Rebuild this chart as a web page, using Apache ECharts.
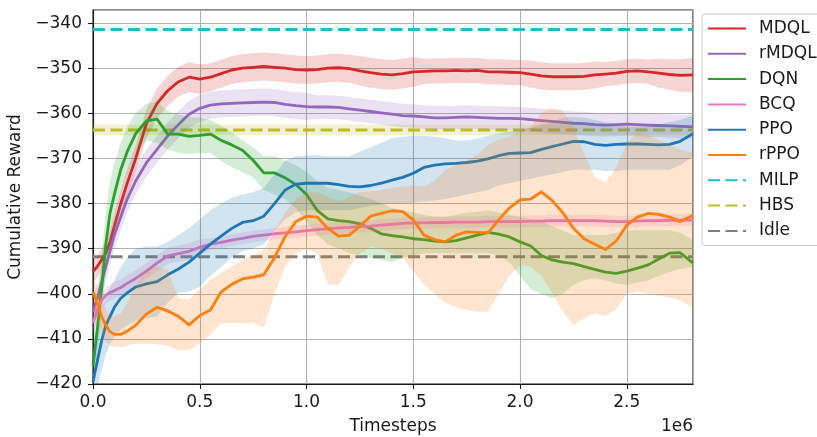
<!DOCTYPE html>
<html><head><meta charset="utf-8">
<script src="https://cdn.jsdelivr.net/npm/echarts@6/dist/echarts.min.js"></script>
<style>html,body{margin:0;padding:0;background:#fff}#c{width:817px;height:437px}</style>
</head><body><div id="c"></div>
<script>
// x values in units of 1e6 timesteps
const timesteps = [0,0.02,0.04,0.06,0.08,0.1,0.13,0.16,0.2,0.25,0.3,0.35,0.4,0.45,0.5,0.55,0.6,0.65,0.7,0.75,0.8,0.85,0.9,0.95,1.0,1.05,1.1,1.15,1.2,1.25,1.3,1.35,1.4,1.45,1.5,1.55,1.6,1.65,1.7,1.75,1.8,1.85,1.9,1.95,2.0,2.05,2.1,2.15,2.2,2.25,2.3,2.35,2.4,2.45,2.5,2.55,2.6,2.65,2.7,2.75,2.81];

const mdqlMean = [-395,-394,-392.5,-391,-388.5,-385,-380,-375.5,-370,-362.3,-357.8,-355,-353,-352,-352.4,-352,-351.2,-350.4,-350,-349.8,-349.6,-349.8,-350,-350.3,-350.4,-350.3,-350,-349.9,-350.1,-350.6,-351,-351.3,-351.5,-351.2,-350.8,-350.7,-350.6,-350.6,-350.5,-350.6,-350.5,-350.8,-350.8,-350.9,-351,-351.3,-351.7,-351.9,-351.9,-351.9,-351.8,-351.5,-351.3,-351.1,-350.7,-350.6,-350.8,-351.1,-351.4,-351.6,-351.5];
const mdqlStd = [2.5,2.5,2.5,2.5,2.5,2.7,2.8,3,3,3.2,3.3,3.3,3.3,3.3,3.3,3.1,3.1,3.1,3.1,3.1,3.1,3.1,3.1,3.1,3.1,3.1,3.1,3.1,3.1,3.3,3.3,3.3,3.3,3.3,3.3,2.8,2.8,2.8,2.8,2.8,2.8,2.8,2.8,2.8,2.8,3,3,3,3,3,3,3,2.7,2.7,2.7,2.7,2.7,3.2,3.4,3.6,3.8];

const rmdqlMean = [-404,-401,-397.5,-394,-390.5,-387,-383,-379,-375,-371,-368,-365,-362.5,-360.2,-358.9,-358.2,-357.9,-357.8,-357.7,-357.6,-357.5,-357.6,-358,-358.3,-358.5,-358.6,-358.6,-358.7,-359,-359.3,-359.6,-359.9,-360.2,-360.5,-360.6,-360.8,-361,-361,-360.9,-360.8,-360.9,-361,-361.1,-361.1,-361.2,-361.4,-361.6,-361.8,-362,-362.2,-362.3,-362.5,-362.6,-362.5,-362.4,-362.5,-362.6,-362.7,-362.8,-362.9,-363];
const rmdqlStd = [3,3,3,3,3,3,3,3,3,3,3,3,3,3,3,3,3,3,3,3,3,3,3,3,3,2.6,2.6,2.6,2.6,2.6,2.6,2.6,2.6,2.6,2.6,2.6,2.6,2.6,2.6,2.6,2.6,2.6,2.6,2.6,2.6,2.6,2.6,2.6,2.6,2.6,2.6,2.6,2.6,2.6,2.6,2.6,2.6,2.6,2.6,2.6,2.6];

const dqnMean = [-416,-408,-399,-389,-382,-378,-372.5,-368.5,-364.5,-361.7,-361.3,-364.6,-364.6,-365.1,-364.9,-364.6,-366,-367,-368.2,-370.4,-373.2,-373.2,-374.3,-375.8,-378,-381.5,-383.4,-383.8,-384,-384.5,-385.5,-386.7,-387.1,-387.4,-387.8,-388,-388.3,-388.5,-388.2,-387.6,-387,-386.4,-386.8,-387.4,-388.5,-389.4,-391.5,-392.5,-393,-393.3,-394,-394.6,-395.2,-395.5,-395,-394.3,-393.6,-392.3,-391,-390.9,-393.2];
const dqnLow = [-421,-414,-405,-395,-388,-384,-378,-374,-369,-366,-366.5,-368,-368.8,-369,-368.8,-368.8,-370.5,-372,-373,-374.2,-377,-378,-379,-381,-384,-387,-389,-390,-391,-391.5,-392,-392.5,-393,-392,-391.5,-391,-391,-391,-391,-391,-391,-391,-391.5,-393,-396,-399,-400,-401,-400,-398,-397,-396.5,-397,-397.8,-398,-397.5,-397,-396,-395.2,-394.5,-394];
const dqnHigh = [-411,-402,-392,-382,-375,-371,-366.5,-363,-360,-357.8,-357.5,-359.5,-360.3,-360.8,-361,-361.5,-362.8,-364.2,-366,-367.5,-369.5,-369.5,-370.5,-371.5,-373,-375,-376.5,-377,-377.5,-378.2,-379,-380,-381,-381.5,-382,-382.5,-383,-383,-382.5,-382,-381.8,-381.5,-382,-382.5,-383,-383.5,-384,-385,-386,-387,-387,-387,-387,-386.5,-386,-385.9,-385.9,-385.9,-385.9,-386.5,-388];

const bcqMean = [-406.5,-403.5,-401.5,-400.3,-399.7,-399.3,-398.6,-397.7,-396.6,-395,-393.2,-391.6,-391.1,-390.6,-389.7,-389,-388.6,-388.1,-387.7,-387.3,-387,-386.7,-386.5,-386.3,-386,-385.8,-385.6,-385.4,-385.3,-385.1,-385,-384.8,-384.6,-384.4,-384.3,-384.3,-384.2,-384.2,-384.1,-384.1,-384.1,-384,-384,-384,-384,-383.9,-383.9,-383.8,-383.8,-383.8,-383.8,-383.8,-383.9,-384,-384,-383.9,-383.8,-383.8,-383.7,-383.7,-383.6];
const bcqStd = [2.5,2.2,2,1.8,1.8,1.8,1.8,1.8,1.8,1.8,1.8,1.8,1.8,1.8,1.8,1.3,1.3,1.3,1.3,1.3,1.3,1.3,1.3,1.3,1.3,1.3,1.3,1.3,1.3,1.3,1.3,1.3,1.3,1.3,1.3,1.3,1.3,1.3,1.3,1.3,1.3,1.3,1.3,1.3,1.3,1.3,1.3,1.3,1.3,1.3,1.3,1.3,1.3,1.3,1.3,1.3,1.3,1.3,1.3,1.3,1.3];

const ppoMean = [-419.5,-415,-410.5,-407,-405,-403,-401,-399.8,-398.5,-397.8,-397.3,-395.8,-394.5,-393,-391,-389,-387.2,-385.5,-384.2,-383.8,-382.8,-380,-377,-375.7,-375.5,-375.5,-375.5,-375.8,-376.2,-376.3,-376,-375.5,-374.8,-374.2,-373.3,-372,-371.5,-371.2,-371.1,-370.9,-370.6,-370.1,-369.4,-368.9,-368.8,-368.7,-368,-367.4,-366.8,-366.2,-366.3,-366.9,-367.1,-366.9,-366.8,-366.8,-366.9,-367,-366.9,-366.2,-364.5];
const ppoLow = [-421,-421,-417,-413.5,-411,-409.5,-408,-407,-406,-405.5,-405,-402,-399.8,-399.5,-398.5,-396,-394,-392,-390.5,-390,-389,-386,-383.5,-382,-381.5,-381.5,-381.5,-381.5,-381.5,-381,-380.5,-380.3,-380,-380,-379.8,-379.5,-379.3,-379,-378.5,-378,-377.5,-377,-376,-375.5,-375,-374.5,-374,-373.5,-373,-372.5,-372.5,-372.5,-372.8,-372.8,-372.5,-372.5,-372.5,-372.5,-372.5,-371.5,-369.5];
const ppoHigh = [-417,-409,-404,-400.5,-398.5,-397,-394,-392,-390,-389.5,-389.5,-388.5,-387,-385.5,-383.5,-381.5,-380,-378.7,-378,-377.5,-376.5,-373.5,-370.5,-369.5,-369.3,-369.3,-369.5,-369.5,-369.5,-368.5,-367.5,-366.5,-365.5,-365.2,-365,-365,-365.2,-365.5,-366,-366,-365.6,-365,-364.5,-364,-363.7,-363.2,-362.5,-362,-361,-360.8,-361,-361.5,-362,-362.5,-363,-363,-362.8,-362.5,-362,-361.5,-360.5];

const rppoMean = [-399.6,-402,-405,-407,-408.4,-409,-409,-408.3,-407,-404.5,-403,-403.8,-405,-406.9,-404.8,-403.6,-399.6,-397.9,-396.7,-396.3,-395.8,-392,-387.3,-384,-382.8,-383,-385.5,-387.2,-387,-385,-382.8,-382.2,-381.6,-381.8,-383.6,-387,-388,-388.5,-387,-386.3,-386.4,-386.5,-383.6,-381,-379.2,-379,-377.4,-379.3,-382,-385.5,-387.8,-389,-390.2,-388.3,-384.8,-383,-382.2,-382.4,-383,-384,-382.6];
const rppoLow = [-402,-406,-409,-410.5,-411.5,-411.8,-411.8,-411.5,-411,-411,-411.2,-411.5,-412.5,-412.5,-411,-409,-406.5,-406.5,-406.5,-406.5,-407.4,-400,-394,-391,-390,-391,-398,-398,-394,-391,-389.6,-390,-391,-392,-395,-398,-400,-402,-403,-403.6,-404,-404,-400,-396,-393.6,-394,-396,-399.8,-404,-406.9,-405.5,-404.3,-404.9,-403.5,-400,-399.5,-400,-400.4,-400.8,-401.5,-403];
const rppoHigh = [-397,-398,-401,-403.5,-405,-405,-404.5,-402,-398,-394.5,-394,-394.7,-401,-401.3,-399,-397,-395.4,-394,-392.5,-391.5,-390.3,-386,-382,-379,-377.5,-377.5,-378.5,-379.5,-378.5,-377.5,-377.3,-377,-376.5,-376.2,-376,-376.2,-375,-372.5,-371.5,-370.5,-369.2,-367,-365.8,-365.2,-364,-363,-360,-358.8,-359.5,-363,-369,-374,-375.4,-372,-366.6,-364.3,-364.8,-366,-367,-368,-368.8];

const milpValue = -341.4;
const hbsValue = -363.7, hbsLow = -364.8, hbsHigh = -362.5;
const idleValue = -391.8;

const xMin = 0, xMax = 2.81, xInterval = 0.5;
const yMin = -420, yMax = -337.1, yInterval = 10;

const FONT = 'DejaVu Sans';
const INK = '#1a1a1a';
const C = {MDQL:'#d62728', rMDQL:'#9467bd', DQN:'#2ca02c', BCQ:'#e377c2', PPO:'#1f77b4', rPPO:'#ff7f0e', MILP:'#17becf', HBS:'#bcbd22', Idle:'#7f7f7f'};

function rgba(hex, a){const n=parseInt(hex.slice(1),16);return `rgba(${n>>16},${(n>>8)&255},${n&255},${a})`;}

function band(name, xs, lo, hi, color, z){
  return {type:'custom', name:name+' band', z, silent:true, clip:true, data:[[xs[0], lo[0]]],
    renderItem:(params, api)=>{
      if(params.dataIndex!==0) return null;
      const pts=[];
      for(let i=0;i<xs.length;i++) pts.push(api.coord([xs[i], hi[i]]));
      for(let i=xs.length-1;i>=0;i--) pts.push(api.coord([xs[i], lo[i]]));
      return {type:'polygon', shape:{points:pts}, style:{fill:rgba(color,0.2), stroke:null}};
    }};
}
function line(name, xs, ys, color, z, dashed){
  return {type:'line', name, z, symbol:'none', showSymbol:false, clip:true, silent:true,
    data: xs.map((x,i)=>[x, ys[i]]),
    itemStyle:{color},
    lineStyle:{color, width: dashed?3:2.8, type: dashed?[12,5.5]:'solid', cap:'butt', join:'round'}};
}
const sub=(a,b)=>a.map((v,i)=>v-b[i]), add=(a,b)=>a.map((v,i)=>v+b[i]);

const algos = [
  ['MDQL', mdqlMean, sub(mdqlMean,mdqlStd), add(mdqlMean,mdqlStd)],
  ['rMDQL', rmdqlMean, sub(rmdqlMean,rmdqlStd), add(rmdqlMean,rmdqlStd)],
  ['DQN', dqnMean, dqnLow, dqnHigh],
  ['BCQ', bcqMean, sub(bcqMean,bcqStd), add(bcqMean,bcqStd)],
  ['PPO', ppoMean, ppoLow, ppoHigh],
  ['rPPO', rppoMean, rppoLow, rppoHigh]
];

const series = [];
series.push(line('MILP', [xMin,xMax], [milpValue,milpValue], C.MILP, 2, true));
series.push(band('HBS', [xMin,xMax], [hbsLow,hbsLow], [hbsHigh,hbsHigh], C.HBS, 2));
series.push(line('HBS', [xMin,xMax], [hbsValue,hbsValue], C.HBS, 2, true));
series.push(line('Idle', [xMin,xMax], [idleValue,idleValue], C.Idle, 2, true));
algos.forEach((a,k)=>{
  series.push(line(a[0], timesteps, a[1], C[a[0]], 3+2*k, false));
  series.push(band(a[0], timesteps, a[2], a[3], C[a[0]], 4+2*k));
});

const chart = echarts.init(document.getElementById('c'), null, {renderer:'canvas'});
chart.setOption({
  animation:false,
  backgroundColor:'#fff',
  textStyle:{fontFamily:FONT},
  grid:{left:93, right:124, top:10, bottom:53, containLabel:false, outerBoundsMode:'none',
    show:true, borderColor:INK, borderWidth:1.1, backgroundColor:'transparent'},
  xAxis:{type:'value', min:xMin, max:xMax, interval:xInterval,
    axisLine:{show:true, onZero:false, lineStyle:{color:INK, width:1.1}},
    axisTick:{show:true, length:5, lineStyle:{color:INK, width:1.1}},
    axisLabel:{margin:10, fontSize:17, color:INK, fontFamily:FONT, showMaxLabel:false, formatter:v=>v.toFixed(1)},
    splitLine:{show:true, lineStyle:{color:'#b0b0b0', width:1.1}},
    name:'Timesteps', nameLocation:'middle', nameGap:34, nameTextStyle:{fontSize:17, color:INK, fontFamily:FONT}},
  yAxis:{type:'value', min:yMin, max:yMax, interval:yInterval,
    axisLine:{show:true, onZero:false, lineStyle:{color:INK, width:1.1}},
    axisTick:{show:true, length:5, lineStyle:{color:INK, width:1.1}},
    axisLabel:{margin:11, fontSize:17, color:INK, fontFamily:FONT, showMaxLabel:false, formatter:v=>String(v).replace('-','\u2212')},
    splitLine:{show:true, lineStyle:{color:'#b0b0b0', width:1.1}},
    name:'Cumulative Reward', nameLocation:'middle', nameGap:66, nameTextStyle:{fontSize:17, color:INK, fontFamily:FONT}},
  legend:{orient:'vertical', left:702, top:14, itemWidth:38, itemHeight:14, itemGap:8.3,
    padding:[6,14,6,5], borderColor:'#cccccc', borderWidth:1, borderRadius:3, backgroundColor:'rgba(255,255,255,0.8)',
    selectedMode:false, itemStyle:{opacity:0},
    textStyle:{fontSize:17, fontFamily:FONT, color:INK, lineHeight:17, padding:[0,0,0,8]},
    data:['MDQL','rMDQL','DQN','BCQ','PPO','rPPO','MILP','HBS','Idle']},
  graphic:[{type:'text', left:661, top:418, silent:true, style:{text:'1e6', font:'17px "DejaVu Sans"', fill:INK}}],
  series
});
</script></body></html>
